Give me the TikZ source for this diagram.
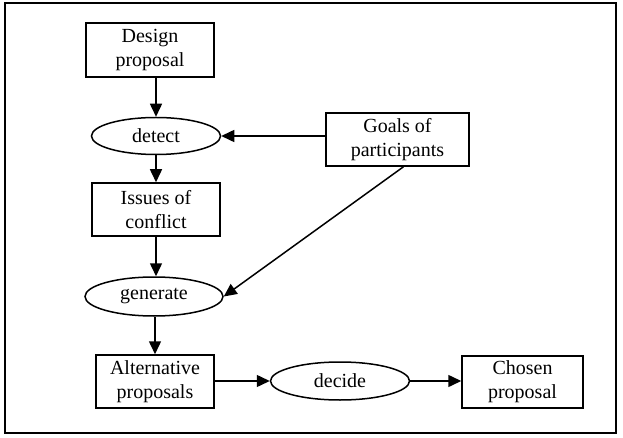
\documentclass[tikz,border=0pt]{standalone}
\usepackage{fontspec}
\setmainfont{Liberation Serif}
\usetikzlibrary{arrows.meta,shapes.geometric}

\begin{document}
\begin{tikzpicture}[
  x=1pt,y=-1pt,
  every node/.style={font=\fontsize{20}{24}\selectfont,align=center,inner sep=0pt},
  box/.style={rectangle,draw,line width=1.5pt},
  oval/.style={ellipse,draw,line width=1.5pt},
  arr/.style={-{Triangle[length=13pt,width=12pt]},line width=1.5pt}
]
\useasboundingbox (0,0) rectangle (623,438);
\draw[line width=2pt] (5,3) rectangle (616,433);
% left column
\node[box,minimum width=128pt,minimum height=54pt] (design) at (150,50) {Design\\proposal};
\node[oval,minimum width=129pt,minimum height=37pt] (detect) at (156,136) {detect};
\node[box,minimum width=128pt,minimum height=53pt] (issues) at (156,209.5) {Issues of\\conflict};
\node[oval,minimum width=138pt,minimum height=39pt] (generate) at (154,296.5) {generate};
\node[box,minimum width=118pt,minimum height=53pt] (alt) at (155,381.5) {Alternative\\proposals};
% right side
\node[box,minimum width=143pt,minimum height=53pt] (goals) at (397.5,139.5) {Goals of\\participants};
\node[oval,minimum width=139pt,minimum height=38pt] (decide) at (340,381) {decide};
\node[box,minimum width=121pt,minimum height=52pt] (chosen) at (522.5,382) {Chosen\\proposal};
% arrows
\draw[arr] (design.south -| detect.north) -- (detect.north);
\draw[arr] (detect.south) -- (issues.north -| detect.south);
\draw[arr] (issues.south) -- (issues.south |- generate.north);
\draw[arr] (generate.south -| alt.north) -- (alt.north);
\draw[arr] (goals.west |- detect.east) -- (detect.east);
\draw[arr] ([xshift=6pt]goals.south) -- (generate.east);
\draw[arr] (alt.east |- decide.west) -- (decide.west);
\draw[arr] (decide.east) -- (decide.east -| chosen.west);
\end{tikzpicture}
\end{document}
